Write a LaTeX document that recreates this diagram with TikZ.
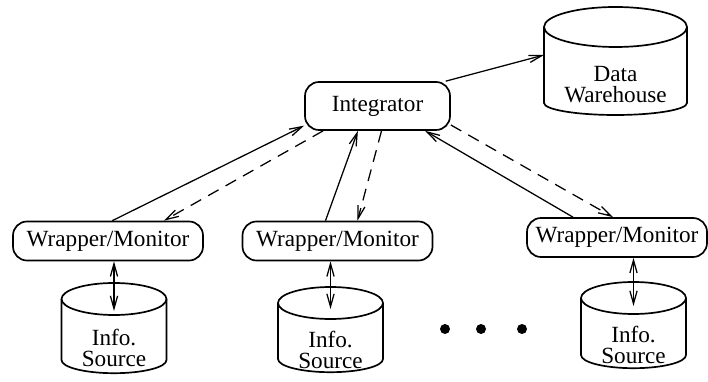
\documentclass[tikz,border=0pt]{standalone}
\usepackage{fontspec}
\setmainfont{Liberation Serif}
\usetikzlibrary{positioning,arrows.meta,calc}

% drum: name, x, y (centre of top ellipse), rx, ry, side height, bottom bulge, text
\newcommand{\drum}[8]{%
  \draw[line width=1.2pt] (#2,#3) ellipse [x radius=#4, y radius=#5];
  \draw[line width=1.2pt] (#2-#4,#3) -- ++(0,-#6)
    arc[start angle=180, end angle=360, x radius=#4, y radius=#7] -- ++(0,#6);
  \coordinate (#1-top) at (#2,#3);
  \coordinate (#1-west) at (#2-#4,#3);
  \node[lbl] (#1) at (#2,#3-0.5*#5-0.5*#6-0.5*#7-0.1) {#8};
}

\begin{document}
\begin{tikzpicture}[
    every node/.style={font=\fontsize{16.5}{15}\selectfont},
    proc/.style={draw, line width=1.2pt, rounded corners=0.35cm, minimum width=4.75cm, minimum height=0.975cm, inner sep=0pt},
    lbl/.style={align=center, inner sep=0pt},
    arr/.style={-{Straight Barb[length=3.2mm,width=1.8mm]}, line width=0.9pt},
    darr/.style={arr, dash pattern=on 3mm off 2mm},
    both/.style={{Straight Barb[length=3.2mm,width=1.8mm]}-{Straight Barb[length=3.2mm,width=1.8mm]}, line width=0.9pt}
]
\useasboundingbox (0,0) rectangle (17.7,9.525);

% integrator and warehouse
\node[proc, minimum width=3.625cm, minimum height=1.2cm] (integ) at (9.4375,6.875) {Integrator};
\drum{wh}{15.3875}{8.85}{1.7875}{0.5}{1.9}{0.3}{Data\\Warehouse}

% wrappers
\node[proc] (w1) at (2.7,3.5) {Wrapper/Monitor};
\node[proc] (w2) at (8.4375,3.5) {Wrapper/Monitor};
\node[proc, minimum width=4.5cm] (w3) at (15.425,3.5875) {Wrapper/Monitor};

% sources
\drum{src1}{2.85}{2.05}{1.3125}{0.4}{1.525}{0.33}{Info.\\Source}
\drum{src2}{8.2625}{1.95}{1.3125}{0.4}{1.4}{0.33}{Info.\\Source}
\drum{src3}{15.8375}{2.075}{1.3125}{0.4}{1.425}{0.33}{Info.\\Source}

\foreach \x in {11.125,12.025,13.05}
    \fill (\x,1.3) circle (0.125);

\draw[arr] (integ.20) -- ([yshift=-0.7cm]wh-west);

\draw[arr] (w1.78) -- (integ.195);
\draw[darr] ($(integ.south)+(-1.36,0)$) -- (w1.20);
\draw[arr] ($(w2.north)+(-0.3,0)$) -- ($(integ.south)+(-0.49,0)$);
\draw[darr] ($(integ.south)+(0.1,0)$) -- ($(w2.north)+(0.5,0)$);
\draw[arr] ($(w3.north)+(-1.1,0)$) -- ($(integ.south)+(1.19,0)$);
\draw[darr] ($(integ.east)+(0,-0.475)$) -- ($(w3.north)+(-0.1,0)$);

\draw[both] (w1.south -| src1-top) -- ([yshift=-0.3cm]src1-top);
\draw[both] (w2.south -| src2-top) -- ([yshift=-0.15cm]src2-top);
\draw[both] (w3.south -| src3-top) -- ([yshift=-0.2cm]src3-top);

\end{tikzpicture}
\end{document}
